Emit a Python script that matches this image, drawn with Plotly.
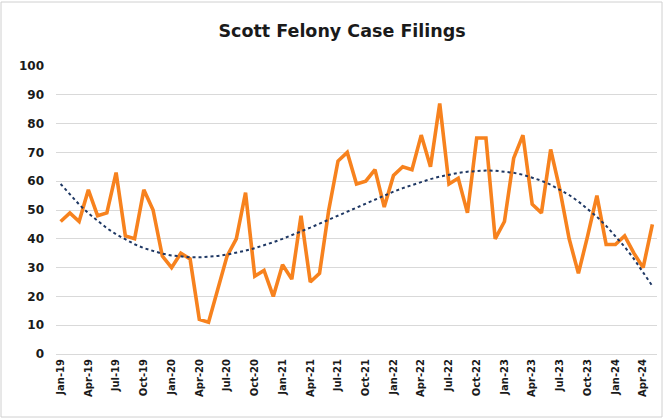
import numpy as np
import pandas as pd
import plotly.graph_objects as go

# Monthly categories Jan-19 .. May-24
months = [d.strftime("%b-%y") for d in pd.date_range("2019-01-01", "2024-05-01", freq="MS")]

filings = [
    46, 49, 46, 57, 48, 49, 63, 41, 40, 57, 50, 34,   # 2019
    30, 35, 33, 12, 11, 23, 34, 40, 56, 27, 29, 20,   # 2020
    31, 26, 48, 25, 28, 50, 67, 70, 59, 60, 64, 51,   # 2021
    62, 65, 64, 76, 65, 87, 59, 61, 49, 75, 75, 40,   # 2022
    46, 68, 76, 52, 49, 71, 57, 40, 28, 41, 55, 38,   # 2023
    38, 41, 35, 30, 45,                               # 2024
]

tick_labels = months[::3]
y_ticks = list(range(0, 101, 10))

# polynomial trendline (like Excel's), fitted to the series
idx = np.arange(len(filings))
coef = np.polyfit(idx, filings, 3)
trend = np.polyval(coef, idx)

FONT = "DejaVu Sans"

fig = go.Figure()
fig.add_trace(go.Scatter(
    x=months, y=filings, mode="lines",
    line=dict(color="#F7821E", width=3.6),
    name="Filings", hoverinfo="x+y",
))
fig.add_trace(go.Scatter(
    x=months, y=trend, mode="lines",
    line=dict(color="#1F3864", width=2, dash="dot"),
    name="Trend", hoverinfo="skip",
))

fig.update_layout(
    width=663, height=418,
    margin=dict(l=56, r=6, t=66, b=64),
    paper_bgcolor="white", plot_bgcolor="white",
    showlegend=False,
    title=dict(text="<b>Scott Felony Case Filings</b>", x=0.516, xanchor="center",
               y=0.925, yanchor="middle",
               font=dict(family=FONT, size=17.5, color="#1a1a1a")),
    font=dict(family=FONT, color="#1a1a1a"),
)
fig.update_xaxes(
    type="category", range=[-0.5, len(months) - 0.5],
    tickmode="array", tickvals=tick_labels,
    ticktext=[f"<b>{t}</b>" for t in tick_labels],
    tickangle=-90, tickfont=dict(size=10, family=FONT, color="#1a1a1a"),
    showgrid=False, showline=True, linecolor="#d9d9d9", linewidth=1,
    ticks="", zeroline=False,
)
fig.update_yaxes(
    range=[0, 100], tickmode="array", tickvals=y_ticks,
    ticktext=[f"<b>{v}</b>" for v in y_ticks],
    tickfont=dict(size=12, family=FONT, color="#1a1a1a"),
    showgrid=True, gridcolor="#d9d9d9", gridwidth=1,
    zeroline=False, showline=False, ticks="", ticklabelstandoff=11,
)

# light chart-area border
W, L, R = 663 - 56 - 6, 56, 6
H, T, B = 418 - 66 - 64, 66, 64
fig.add_shape(type="rect", xref="paper", yref="paper",
              x0=(1 - L) / W, x1=(662 - L) / W,
              y0=(418 - 417 - B) / H, y1=(418 - 2 - B) / H,
              line=dict(color="#d0d0d0", width=1), layer="below")

fig.write_html("out.html", config={"displayModeBar": False})

# remove the browser's default page margin so the figure sits at (0, 0)
with open("out.html", encoding="utf-8") as f:
    html = f.read()
html = html.replace("<head>", "<head><style>html,body{margin:0;padding:0;overflow:hidden}</style>", 1)
with open("out.html", "w", encoding="utf-8") as f:
    f.write(html)
